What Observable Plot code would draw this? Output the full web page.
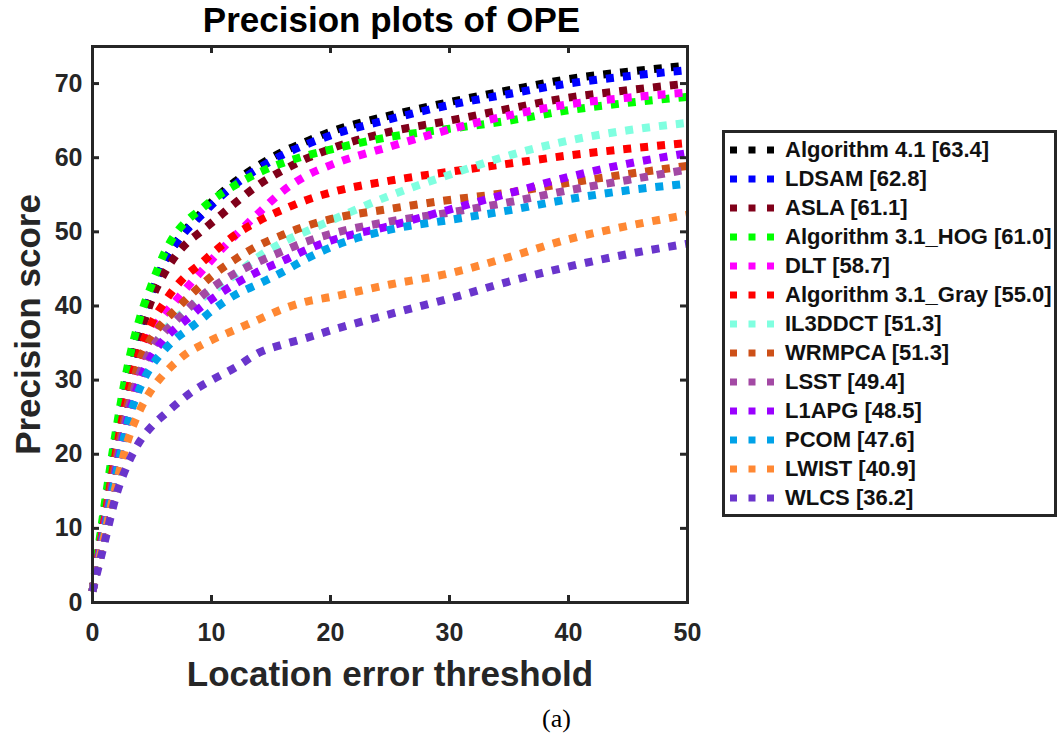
<!DOCTYPE html>
<html>
<head>
<meta charset="utf-8">
<script src="https://cdn.jsdelivr.net/npm/d3@7"></script>
<script src="https://cdn.jsdelivr.net/npm/@observablehq/plot@0.6"></script>
<style>
  body { margin: 0; background: #fff; }
  #wrap { position: relative; width: 1062px; height: 734px; overflow: hidden; font-family: "Liberation Sans", Arial, sans-serif; }
  #chart { position: absolute; left: 0; top: 0; }
  #legend { position: absolute; left: 722px; top: 130px; width: 335px; height: 387px; box-sizing: border-box; border: 3px solid #262626; background: #fff; padding-top: 2.5px; }
  .row { display: flex; align-items: center; height: 29px; padding-left: 5px; font-size: 22px; font-weight: bold; color: #111; white-space: nowrap; }
  .row svg { margin-right: 11px; flex: none; }
</style>
</head>
<body>
<div id="wrap">
  <div id="chart"></div>
  <div id="legend"></div>
</div>
<script>
// ---- data ----
const thresholds = [0, 1, 2, 3, 4, 5, 6, 7, 8, 9, 10, 12, 14, 16, 18, 20, 25, 30, 35, 40, 45, 50];

const names = ["Algorithm 4.1", "LDSAM", "ASLA", "Algorithm 3.1_HOG", "DLT", "Algorithm 3.1_Gray",
               "IL3DDCT", "WRMPCA", "LSST", "L1APG", "PCOM", "LWIST", "WLCS"];
const scores = ["63.4", "62.8", "61.1", "61.0", "58.7", "55.0", "51.3", "51.3", "49.4", "48.5", "47.6", "40.9", "36.2"];
const palette = ["#000000", "#0000ff", "#80001a", "#00ff00", "#ff00ff", "#ff0000",
                 "#80ffe0", "#cd5018", "#a349a4", "#9a00ff", "#00a2e8", "#ff8833", "#6a35cc"];

const alg41   = [1.5, 12, 22, 30.5, 37, 41.8, 45.8, 48.5, 50.6, 52.3, 54.0, 56.8, 59.0, 60.8, 62.2, 63.5, 65.7, 67.5, 69.1, 70.6, 71.6, 72.4];
const ldsam   = [1.5, 12, 22, 30.5, 37, 41.8, 45.8, 48.4, 50.4, 52.0, 53.6, 56.4, 58.6, 60.4, 61.8, 63.0, 65.2, 67.1, 68.6, 70.0, 71.0, 71.8];
const asla    = [1.5, 11.5, 21, 29.5, 36, 41.0, 44.3, 46.8, 48.6, 49.9, 51.2, 53.9, 56.4, 58.3, 59.9, 61.2, 63.5, 65.0, 66.6, 68.1, 69.1, 70.0];
const hog     = [1.5, 13, 23.4, 32.2, 38.5, 43.0, 47.0, 49.8, 51.6, 52.9, 54.2, 56.3, 58.0, 59.3, 60.3, 61.1, 62.8, 63.9, 65.0, 66.4, 67.4, 68.2];
const dlt     = [1.5, 11, 20, 28.3, 32.6, 36.6, 38.8, 40.7, 42.6, 44.4, 46.2, 49.5, 52.6, 55.5, 57.6, 59.0, 61.5, 63.8, 65.7, 67.2, 68.1, 68.8];
const gray    = [1.5, 11, 20.5, 28.5, 34, 37.8, 40.4, 42.6, 44.3, 45.6, 47.0, 49.6, 51.5, 53.0, 54.3, 55.3, 56.9, 58.1, 59.2, 60.3, 61.2, 62.0];
const il3ddct = [1.5, 10, 18.5, 25.5, 30.5, 34.0, 36.5, 38.3, 39.6, 40.8, 41.9, 44.2, 46.7, 48.6, 50.1, 51.5, 54.9, 57.7, 60.3, 62.3, 63.7, 64.7];
const wrmpca  = [1.5, 10.5, 19.5, 27, 32.8, 35.8, 37.9, 39.5, 41.1, 42.6, 44.0, 46.3, 48.2, 49.6, 50.8, 51.7, 53.1, 54.3, 55.3, 56.6, 57.8, 58.9];
const lsst    = [1.5, 10, 18.5, 26, 31, 34.3, 36.4, 38.0, 39.6, 41.1, 42.4, 44.4, 46.0, 47.4, 48.7, 49.7, 51.4, 52.6, 54.0, 55.6, 57.0, 58.4];
const l1apg   = [1.5, 10, 18, 25, 30, 33.3, 35.5, 37.0, 38.3, 39.7, 40.9, 43.0, 44.7, 46.1, 47.6, 48.8, 50.8, 53.0, 55.2, 57.4, 59.2, 60.6];
const pcom    = [1.5, 9.5, 17.5, 24.5, 29, 32.0, 34.0, 35.6, 36.8, 38.0, 39.3, 41.5, 43.0, 44.6, 46.4, 47.9, 50.3, 51.6, 52.9, 54.4, 55.6, 56.5];
const lwist   = [1.5, 9, 16, 22, 26, 28.8, 30.8, 32.4, 33.7, 34.6, 35.4, 36.8, 38.2, 39.6, 40.6, 41.2, 42.9, 44.4, 46.6, 49.0, 50.8, 52.3];
const wlcs    = [1.5, 8, 14.5, 18.8, 21.8, 23.8, 25.3, 26.7, 28.0, 29.1, 30.0, 31.7, 33.7, 34.8, 35.7, 36.7, 38.9, 41.0, 43.3, 45.3, 47.0, 48.4];

const xTicks = [0, 10, 20, 30, 40, 50];
const yTicks = [0, 10, 20, 30, 40, 50, 60, 70];

const titleText = "Precision plots of OPE";
const xLabel = "Location error threshold";
const yLabel = "Precision score";
const caption = "(a)";

// ---- build ----
const series = [alg41, ldsam, asla, hog, dlt, gray, il3ddct, wrmpca, lsst, l1apg, pcom, lwist, wlcs];
const rows = names.flatMap((name, i) => thresholds.map((t, j) => ({name, t, v: series[i][j]})));

const ink = "#262626";
const mL = 92, mR = 375, mT = 46, mB = 132, W = 1062, H = 734;
const frameW = W - mL - mR, frameH = H - mT - mB;

const chart = Plot.plot({
  width: W, height: H,
  marginLeft: mL, marginRight: mR, marginTop: mT, marginBottom: mB,
  style: {fontFamily: "'Liberation Sans', Arial, sans-serif", background: "transparent", overflow: "visible"},
  x: {domain: [0, 50]},
  y: {domain: [0, 75]},
  color: {domain: names, range: palette},
  marks: [
    Plot.line(rows, {x: "t", y: "v", z: "name", stroke: "name", strokeWidth: 8,
                     strokeDasharray: "8 9", strokeLinecap: "butt", curve: "monotone-x"}),
    Plot.frame({stroke: ink, strokeWidth: 3}),
    Plot.tickX(xTicks, {x: d => d, stroke: ink, strokeWidth: 3, insetTop: frameH - 7}),
    Plot.tickX(xTicks, {x: d => d, stroke: ink, strokeWidth: 3, insetBottom: frameH - 7}),
    Plot.tickY(yTicks, {y: d => d, stroke: ink, strokeWidth: 3, insetRight: frameW - 7}),
    Plot.tickY(yTicks, {y: d => d, stroke: ink, strokeWidth: 3, insetLeft: frameW - 7}),
    Plot.axisX(xTicks, {tickSize: 0, tickPadding: 21, fontSize: 25, fontWeight: "bold", fill: ink, label: null}),
    Plot.axisY(yTicks, {tickSize: 0, tickPadding: 10, fontSize: 25, fontWeight: "bold", fill: ink, label: null}),
    Plot.text([xLabel], {frameAnchor: "bottom", lineAnchor: "middle", textAnchor: "middle", dy: 72, fontSize: 35, fontWeight: "bold", fill: ink}),
    Plot.text([yLabel], {frameAnchor: "left", lineAnchor: "middle", textAnchor: "middle", rotate: -90, dx: -64, fontSize: 35, fontWeight: "bold", fill: ink}),
    Plot.text([titleText], {frameAnchor: "top", lineAnchor: "middle", textAnchor: "middle", dy: -25.5, dx: 1.5, fontSize: 35, fontWeight: "bold", fill: "#000"}),
    Plot.text([caption], {frameAnchor: "bottom", lineAnchor: "middle", textAnchor: "middle", dx: 166.5, dy: 116, fontSize: 26, fontFamily: "'Liberation Serif', serif", fill: "#000"})
  ]
});
document.getElementById("chart").appendChild(chart);

// ---- legend ----
const legend = document.getElementById("legend");
names.forEach((name, i) => {
  const row = document.createElement("div");
  row.className = "row";
  row.innerHTML = `<svg width="44" height="8"><line x1="0" y1="4" x2="44" y2="4" stroke="${palette[i]}" stroke-width="7" stroke-dasharray="7 11.5"/></svg><span>${name} [${scores[i]}]</span>`;
  legend.appendChild(row);
});
</script>
</body>
</html>
